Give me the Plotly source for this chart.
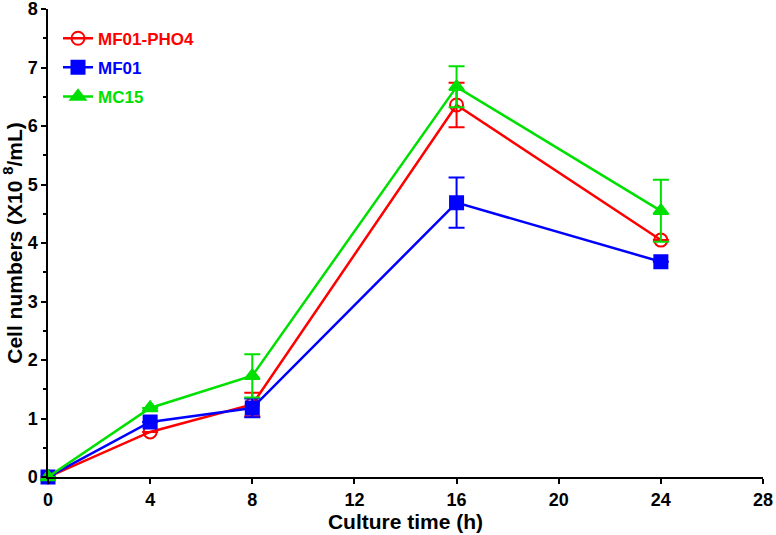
import plotly.graph_objects as go

time_h = [0, 4, 8, 16, 24]

pho4_vals = [0.0, 0.77, 1.24, 6.36, 4.05]
pho4_err = [0.0, 0.0, 0.2, 0.38, 0.0]

mf01_vals = [0.0, 0.94, 1.18, 4.69, 3.68]
mf01_err = [0.0, 0.0, 0.16, 0.43, 0.0]

mc15_vals = [0.0, 1.18, 1.73, 6.67, 4.55]
mc15_err = [0.0, 0.0, 0.37, 0.35, 0.53]

x_ticks = [0, 4, 8, 12, 16, 20, 24, 28]
y_ticks = [0, 1, 2, 3, 4, 5, 6, 7, 8]

series = [
    ("MF01-PHO4", pho4_vals, pho4_err, "#ff0000", "circle-open"),
    ("MF01", mf01_vals, mf01_err, "#0000ff", "square"),
    ("MC15", mc15_vals, mc15_err, "#00e000", "triangle-up"),
]

fig = go.Figure()
for name, vals, err, color, sym in series:
    fig.add_trace(go.Scatter(
        x=time_h, y=vals, mode="lines+markers",
        name=f'<span style="color:{color}">{name}</span>',
        legendgroup=name,
        line=dict(color=color, width=2.5),
        marker=dict(symbol=sym, size=13, color=color,
                    line=dict(color=color, width=2)),
        error_y=dict(type="data", array=err, color=color, thickness=2, width=8),
        cliponaxis=False,
    ))

font_family = "Liberation Sans, Arial, sans-serif"
fig.update_layout(
    width=776, height=535,
    margin=dict(l=48, r=13, t=9, b=58),
    plot_bgcolor="white", paper_bgcolor="white",
    font=dict(family=font_family, size=18, color="black"),
    showlegend=True,
    legend=dict(x=0.014, y=0.975, xanchor="left", yanchor="top",
                bgcolor="rgba(0,0,0,0)", font=dict(size=17, family=font_family, weight="bold"),
                itemwidth=30, traceorder="grouped", tracegroupgap=4),
    xaxis=dict(range=[0, 28], tickvals=x_ticks,
               showgrid=False, zeroline=False, showline=True, linecolor="black", linewidth=2,
               ticks="outside", ticklen=5, tickwidth=1.5, tickcolor="black",
               tickfont=dict(size=18, weight="bold"), automargin=False,
               ticklabeloverflow="allow",
               title=dict(text="Culture time (h)", font=dict(size=21, weight="bold"), standoff=6)),
    yaxis=dict(range=[0, 8], tickvals=y_ticks,
               showgrid=False, zeroline=False, showline=True, linecolor="black", linewidth=1.5,
               ticks="outside", ticklen=5, tickwidth=1.5, tickcolor="black",
               minor=dict(dtick=0.5, ticks="outside", ticklen=3, tickcolor="black", showgrid=False),
               tickfont=dict(size=18, weight="bold"), automargin=False,
               ticklabeloverflow="allow",
               title=dict(text="Cell numbers (X10 <sup>8</sup>/mL)", font=dict(size=21, weight="bold"), standoff=3)),
)

fig.write_html("out.html", config={"displayModeBar": False},
               post_script="document.body.style.margin='0';document.body.style.overflow='hidden';")
